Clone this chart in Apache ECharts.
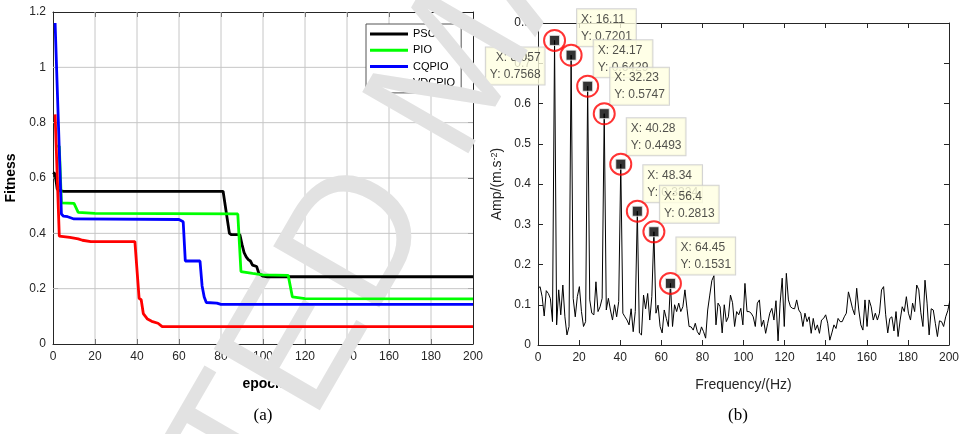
<!DOCTYPE html>
<html>
<head>
<meta charset="utf-8">
<script src="https://cdn.jsdelivr.net/npm/echarts@6/dist/echarts.min.js"></script>
<style>
  html, body { margin: 0; padding: 0; background: #fff; }
  #chart { width: 962px; height: 434px; }
</style>
</head>
<body>
<div id="chart"></div>
<script>
// (a) fitness curves, [epoch, fitness]
const psoCurve = [[0, 0.62], [1, 0.615], [2, 0.56], [3, 0.555], [5, 0.552], [81, 0.552], [84, 0.4], [85, 0.395], [89, 0.395], [90, 0.36], [91, 0.33], [92, 0.315], [93, 0.305], [94, 0.3], [95, 0.285], [97, 0.28], [98, 0.255], [100, 0.245], [102, 0.243], [200, 0.243]];
const pioCurve = [[2, 0.715], [3, 0.715], [4, 0.51], [10, 0.508], [12, 0.476], [20, 0.472], [88, 0.47], [89.5, 0.262], [95, 0.255], [100, 0.25], [112, 0.248], [114, 0.17], [120, 0.164], [200, 0.163]];
const cqpioCurve = [[1, 1.16], [4, 0.47], [5, 0.462], [7, 0.46], [10, 0.452], [60, 0.45], [62, 0.442], [63, 0.3], [70, 0.3], [71, 0.21], [72, 0.17], [73, 0.15], [78, 0.148], [80, 0.143], [200, 0.143]];
const vdcpioCurve = [[1, 0.83], [3, 0.39], [8, 0.385], [12, 0.38], [14, 0.375], [18, 0.37], [39, 0.37], [41, 0.165], [42, 0.16], [43, 0.11], [44, 0.1], [45, 0.09], [47, 0.082], [50, 0.075], [52, 0.063], [200, 0.063]];
const legendNames = ['PSO', 'PIO', 'CQPIO', 'VDCPIO'];
// grid line positions of panel (a)
const epochTicks = [20, 40, 60, 80, 100, 120, 140, 160, 180];
const fitnessTicks = [0.2, 0.4, 0.6, 0.8, 1.0];

// (b) amplitude spectrum, one value per frequency bin
const freqStep = 1.00708;
const amplitude = [
  0.14, 0.145, 0.12, 0.072, 0.135, 0.128, 0.115, 0.058, 0.7568, 0.05,
  0.137, 0.075, 0.149, 0.07, 0.025, 0.046, 0.7201, 0.116, 0.07, 0.12,
  0.145, 0.083, 0.046, 0.058, 0.6429, 0.112, 0.079, 0.075, 0.157, 0.083,
  0.095, 0.116, 0.5747, 0.087, 0.116, 0.087, 0.062, 0.1, 0.07, 0.108,
  0.4493, 0.079, 0.07, 0.062, 0.05, 0.09, 0.033, 0.083, 0.3324, 0.03,
  0.025, 0.124, 0.09, 0.128, 0.062, 0.12, 0.2813, 0.079, 0.099, 0.046,
  0.03, 0.087, 0.066, 0.046, 0.1531, 0.046, 0.1, 0.083, 0.104, 0.083,
  0.095, 0.137, 0.09, 0.046, 0.045, 0.037, 0.054, 0.033, 0.025, 0.045,
  0.033, 0.017, 0.087, 0.124, 0.16, 0.172, 0.05, 0.104, 0.095, 0.03,
  0.1, 0.058, 0.07, 0.124, 0.105, 0.046, 0.083, 0.075, 0.091, 0.05,
  0.153, 0.083, 0.083, 0.079, 0.07, 0.046, 0.104, 0.112, 0.046, 0.062,
  0.029, 0.054, 0.079, 0.091, 0.062, 0.11, 0.01, 0.104, 0.166, 0.046,
  0.178, 0.112, 0.095, 0.091, 0.09, 0.112, 0.087, 0.079, 0.046, 0.079,
  0.058, 0.07, 0.029, 0.066, 0.037, 0.05, 0.029, 0.062, 0.066, 0.075,
  0.054, 0.012, 0.03, 0.05, 0.041, 0.066, 0.058, 0.058, 0.07, 0.079,
  0.132, 0.112, 0.09, 0.075, 0.141, 0.087, 0.05, 0.037, 0.112, 0.046,
  0.112, 0.095, 0.062, 0.079, 0.062, 0.079, 0.137, 0.145, 0.075, 0.03,
  0.066, 0.07, 0.035, 0.083, 0.021, 0.062, 0.095, 0.083, 0.12, 0.079,
  0.062, 0.104, 0.083, 0.149, 0.137, 0.08, 0.046, 0.161, 0.104, 0.025,
  0.09, 0.087, 0.054, 0.021, 0.06, 0.058, 0.046, 0.07, 0.085, 0.11
];
// data tips
const tipX = [8.057, 16.11, 24.17, 32.23, 40.28, 48.34, 56.4, 64.45];
const tipY = [0.7568, 0.7201, 0.6429, 0.5747, 0.4493, 0.3324, 0.2813, 0.1531];

const font = '"Liberation Sans", Arial, sans-serif';
const ink = '#262626';

function makeAxis(gridIndex, pos, min, max, interval, extra) {
  const main = pos === 'bottom' || pos === 'left';
  return Object.assign({
    type: 'value',
    gridIndex: gridIndex,
    position: pos,
    min: min,
    max: max,
    interval: interval,
    axisLine: { show: true, onZero: false, lineStyle: { color: ink, width: 1 } },
    axisTick: { show: true, inside: true, length: 5, lineStyle: { color: ink } },
    axisLabel: { show: main, color: ink, fontSize: 12, fontFamily: font, margin: 7 },
    splitLine: { show: false }
  }, extra || {});
}

const series = [];

// panel (a) grid, as thin plain line series under the curves
const gridSegs = epochTicks.map((x) => [[x, 0], [x, 1.2]])
  .concat(fitnessTicks.map((y) => [[0, y], [200, y]]));
gridSegs.forEach((seg) => series.push({
  type: 'line',
  xAxisIndex: 0,
  yAxisIndex: 0,
  data: seg,
  symbol: 'none',
  silent: true,
  lineStyle: { color: '#c6c6c6', width: 1 },
  z: 1
}));

const mainSeries = [psoCurve, pioCurve, cqpioCurve, vdcpioCurve];
const colors = ['#000000', '#00ff00', '#0000ff', '#ff0000'];

mainSeries.forEach((d, i) => series.push({
  name: legendNames[i],
  type: 'line',
  xAxisIndex: 0,
  yAxisIndex: 0,
  data: d,
  symbol: 'none',
  color: colors[i],
  lineStyle: { color: colors[i], width: 2.8 },
  z: 3
}));

series.push({
  type: 'line',
  xAxisIndex: 2,
  yAxisIndex: 2,
  data: amplitude.map((v, i) => [i * freqStep, v]),
  symbol: 'none',
  lineStyle: { color: '#000', width: 1 },
  z: 3
});

const tipPoints = tipX.map((x, i) => [x, tipY[i]]);

series.push({
  type: 'scatter',
  xAxisIndex: 2,
  yAxisIndex: 2,
  symbol: 'circle',
  symbolSize: 20,
  itemStyle: { color: 'rgba(0,0,0,0)' },
  z: 2.6,
  label: {
    show: true,
    position: [16, 1],
    align: 'left',
    verticalAlign: 'bottom',
    formatter: (p) => 'X: ' + tipX[p.dataIndex] + '\nY: ' + tipY[p.dataIndex],
    fontSize: 12,
    fontFamily: font,
    lineHeight: 17,
    color: ink,
    backgroundColor: '#ffffe1',
    borderColor: '#c8c8c8',
    borderWidth: 1,
    padding: [2, 4, 1, 4]
  },
  data: tipPoints.map((pt, i) => i === 0
    ? { value: pt, label: { position: [0, 17], align: 'right', verticalAlign: 'top' } }
    : { value: pt })
});

series.push({
  type: 'scatter',
  xAxisIndex: 2,
  yAxisIndex: 2,
  symbol: 'circle',
  symbolSize: 21,
  itemStyle: { color: 'rgba(0,0,0,0)', borderColor: '#ff0000', borderWidth: 2 },
  z: 5,
  data: tipPoints
});

series.push({
  type: 'scatter',
  xAxisIndex: 2,
  yAxisIndex: 2,
  symbol: 'rect',
  symbolSize: 10,
  itemStyle: { color: '#000', borderColor: '#eeeeee', borderWidth: 1 },
  z: 5,
  data: tipPoints
});

const option = {
  animation: false,
  backgroundColor: '#fff',
  textStyle: { fontFamily: font },
  grid: [
    { left: 53, top: 12, width: 420, height: 332 },
    { left: 538, top: 23, width: 411, height: 322 }
  ],
  xAxis: [
    makeAxis(0, 'bottom', 0, 200, 20, {
      name: 'epoch', nameLocation: 'middle', nameGap: 33,
      nameTextStyle: { color: '#000', fontSize: 14, fontWeight: 'bold', fontFamily: font }
    }),
    makeAxis(0, 'top', 0, 200, 20),
    makeAxis(1, 'bottom', 0, 200, 20, {
      name: 'Frequency/(Hz)', nameLocation: 'middle', nameGap: 33,
      nameTextStyle: { color: ink, fontSize: 14, fontFamily: font }
    }),
    makeAxis(1, 'top', 0, 200, 20)
  ],
  yAxis: [
    makeAxis(0, 'left', 0, 1.2, 0.2, {
      name: 'Fitness', nameLocation: 'middle', nameGap: 35,
      nameTextStyle: { color: '#000', fontSize: 14, fontWeight: 'bold', fontFamily: font }
    }),
    makeAxis(0, 'right', 0, 1.2, 0.2),
    makeAxis(1, 'left', 0, 0.8, 0.1, {
      name: 'Amp/(m.s{sup|-2})', nameLocation: 'middle', nameGap: 34,
      nameTextStyle: {
        color: ink, fontSize: 14, fontFamily: font,
        rich: { sup: { fontSize: 9, verticalAlign: 'top', color: ink, fontFamily: font } }
      }
    }),
    makeAxis(1, 'right', 0, 0.8, 0.1)
  ],
  legend: {
    data: legendNames,
    orient: 'vertical',
    left: 366,
    top: 24,
    icon: 'rect',
    itemWidth: 38,
    itemHeight: 3,
    itemGap: 2.3,
    padding: [3, 6, 3, 4],
    borderColor: '#555',
    borderWidth: 1,
    selectedMode: false,
    z: 2.5,
    textStyle: { color: '#000', fontSize: 11, lineHeight: 14, fontFamily: font }
  },
  graphic: {
    elements: [
      {
        // white box behind the legend entries
        type: 'rect', z: 1.5, silent: true,
        shape: { x: 366, y: 24, width: 96, height: 69 },
        style: { fill: '#fff' }
      },
      {
        type: 'text', x: 458, y: 73, rotation: 60 * Math.PI / 180, z: 2.7, silent: true,
        style: {
          text: 'ACCEPTED MANUSCRIPT', font: '178px "Liberation Sans", Arial, sans-serif',
          fill: '#e2e2e2', align: 'center', verticalAlign: 'middle',
          textAlign: 'center', textVerticalAlign: 'middle'
        }
      },
      {
        type: 'text', x: 263, y: 416, z: 1,
        style: { text: '(a)', font: '17px "Liberation Serif", serif', fill: '#000', align: 'center', verticalAlign: 'middle', textAlign: 'center', textVerticalAlign: 'middle' }
      },
      {
        type: 'text', x: 738, y: 416, z: 1,
        style: { text: '(b)', font: '17px "Liberation Serif", serif', fill: '#000', align: 'center', verticalAlign: 'middle', textAlign: 'center', textVerticalAlign: 'middle' }
      }
    ]
  },
  series: series
};

const myChart = echarts.init(document.getElementById('chart'));
myChart.setOption(option);
</script>
</body>
</html>
